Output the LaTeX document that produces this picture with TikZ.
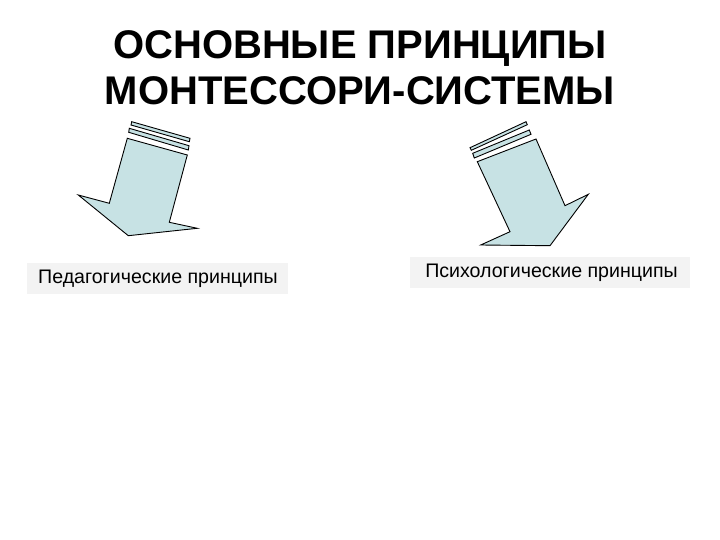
\documentclass[tikz,border=0pt]{standalone}
\usepackage{fontspec}
\setmainfont{Liberation Sans}
\definecolor{arrowfill}{RGB}{199,226,228}
\definecolor{labelfill}{RGB}{243,243,243}
\tikzset{
  arrowshape/.style={draw=black, line width=0.9pt, fill=arrowfill, line join=miter},
  labelbox/.style={fill=labelfill, inner sep=0pt, font=\fontsize{19.6}{23}\selectfont},
  titletext/.style={font=\bfseries\fontsize{40}{46}\selectfont, align=center}
}
\begin{document}
\begin{tikzpicture}[x=1pt,y=-1pt]
\useasboundingbox (0,0) rectangle (720,540);
\fill[white] (0,0) rectangle (720,540);
\node[titletext] (title) at (360,68) {ОСНОВНЫЕ ПРИНЦИПЫ\\МОНТЕССОРИ-СИСТЕМЫ};
% left arrow
\draw[arrowshape] (131.7,121.7) -- (190,138.3) -- (189.3,141.7) -- (131,125) -- cycle;
\draw[arrowshape] (129.3,128.3) -- (189,145.7) -- (188.3,150) -- (128.7,132.3) -- cycle;
\draw[arrowshape] (127.3,138.3) -- (187.3,155) -- (169.3,222.3) -- (197.3,228.3) -- (128.3,235.7) -- (78.3,195) -- (109.3,203.3) -- cycle;
% right arrow
\draw[arrowshape] (470,147.7) -- (526,121.7) -- (527.3,124.7) -- (471.3,150.3) -- cycle;
\draw[arrowshape] (472.7,153.3) -- (529.3,130) -- (531,134.3) -- (474.3,158) -- cycle;
\draw[arrowshape] (477.3,161.7) -- (536,139) -- (565,205.7) -- (588.3,194.3) -- (550,245.7) -- (480.7,245) -- (510,231.7) -- cycle;
% labels
\fill[labelfill] (27,263) rectangle (288,294);
\node[labelbox, anchor=center] (ped) at (158,278.5) {Педагогические принципы};
\fill[labelfill] (410,257) rectangle (690,288);
\node[labelbox, anchor=center] (psy) at (551.5,272.5) {Психологические принципы};
\end{tikzpicture}
\end{document}
